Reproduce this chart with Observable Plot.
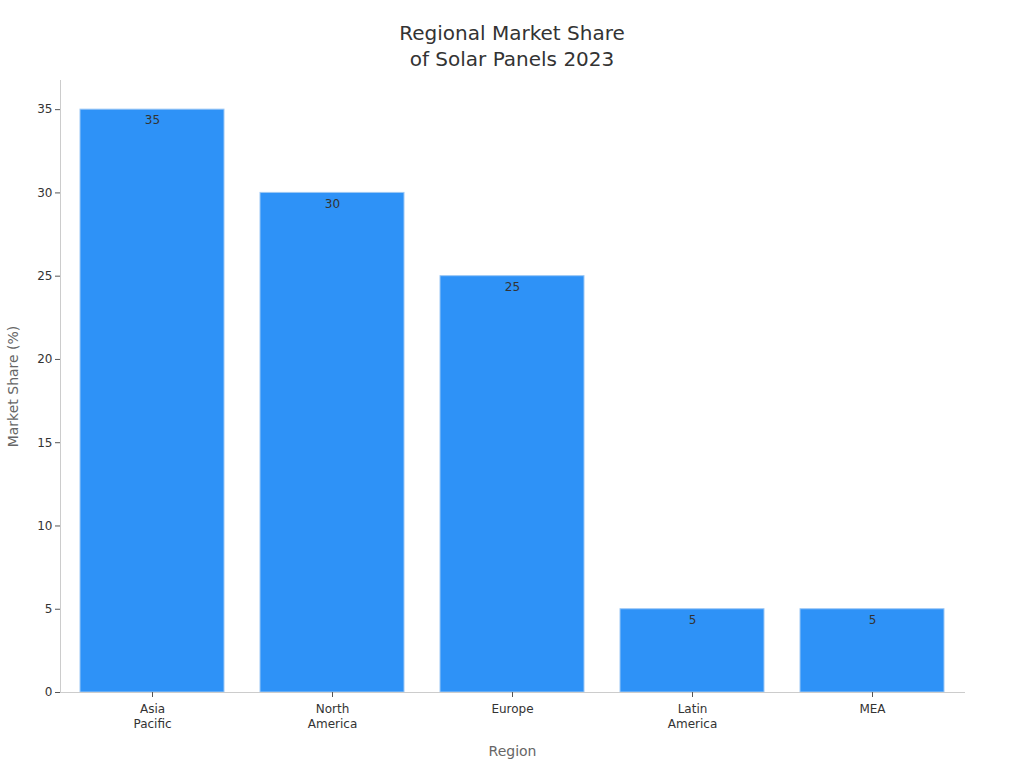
<!DOCTYPE html>
<html>
<head>
<meta charset="utf-8">
<script src="https://cdn.jsdelivr.net/npm/d3@7"></script>
<script src="https://cdn.jsdelivr.net/npm/@observablehq/plot@0.6"></script>
<style>
  html, body { margin: 0; padding: 0; background: #fff; }
  body { width: 1024px; height: 768px; overflow: hidden; font-family: "DejaVu Sans", sans-serif; }
  #title { height: 78px; box-sizing: border-box; padding-top: 20px; text-align: center;
           font-size: 20px; line-height: 26px; color: #333; }
</style>
</head>
<body>
<div id="title">Regional Market Share<br>of Solar Panels 2023</div>
<div id="chart"></div>
<script>
const regions = ["Asia Pacific", "North America", "Europe", "Latin America", "MEA"];
const tickLabels = ["Asia\nPacific", "North\nAmerica", "Europe", "Latin\nAmerica", "MEA"];
const shares = [35, 30, 25, 5, 5];
const yTicks = [0, 5, 10, 15, 20, 25, 30, 35];

const data = regions.map((r, i) => ({region: r, share: shares[i]}));
const labelOf = new Map(regions.map((r, i) => [r, tickLabels[i]]));

const chart = Plot.plot({
  width: 1024,
  height: 690,
  marginTop: 2,
  marginLeft: 60,
  marginRight: 60,
  marginBottom: 76,
  style: {fontFamily: "DejaVu Sans, sans-serif", fontSize: "12px", color: "#333", background: "#fff"},
  x: {domain: regions, paddingInner: 0.2, paddingOuter: 0.105, label: null},
  y: {domain: [0, 36.75], label: null},
  marks: [
    Plot.barY(data, {x: "region", y: "share", fill: "#2E92F7", stroke: "#9cc8f5", strokeWidth: 1}),
    Plot.text(data, {x: "region", y: "share", text: d => String(d.share), dy: 11, fill: "#333", fontSize: 12}),
    Plot.frame({anchor: "left", stroke: "#ccc"}),
    Plot.frame({anchor: "bottom", stroke: "#ccc"}),
    Plot.axisY(yTicks, {tickSize: 5, tickPadding: 3, stroke: "#555", fill: "#333", fontSize: 12,
      label: "Market Share (%)", labelAnchor: "center", labelArrow: "none", labelOffset: 52}),
    Plot.axisX({tickSize: 5, tickPadding: 5, stroke: "#555", fill: "#333", fontSize: 12, lineHeight: 1.25,
      tickFormat: d => labelOf.get(d),
      label: "Region", labelAnchor: "center", labelArrow: "none", labelOffset: 63})
  ]
});
document.getElementById("chart").appendChild(chart);
// style axis titles
chart.querySelectorAll("g[aria-label='y-axis label'] text, g[aria-label='x-axis label'] text").forEach(t => {
  t.setAttribute("fill", "#666");
  t.style.fontSize = "14px";
});
</script>
</body>
</html>
